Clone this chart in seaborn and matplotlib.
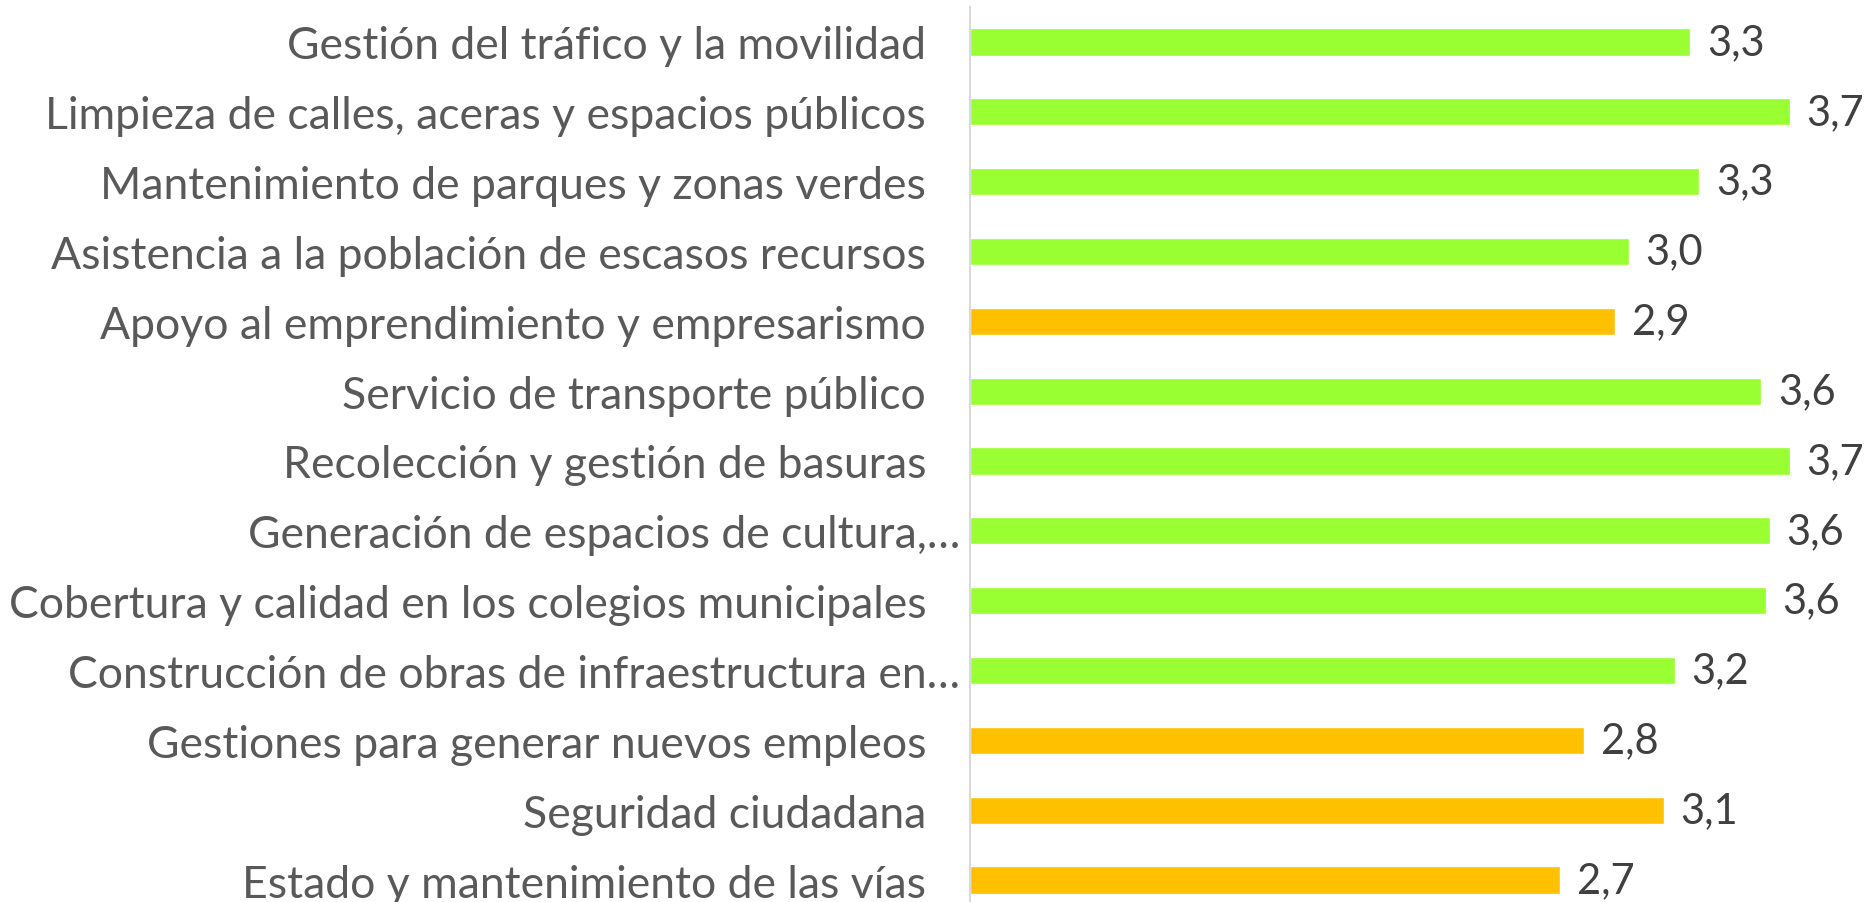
import numpy as np
import pandas as pd
import seaborn as sns
import matplotlib.pyplot as plt

# datos (promedio por servicio)
servicios = [
    "Gestión del tráfico y la movilidad   ",
    "Limpieza de calles, aceras y espacios públicos   ",
    "Mantenimiento de parques y zonas verdes   ",
    "Asistencia a la población de escasos recursos   ",
    "Apoyo al emprendimiento y empresarismo   ",
    "Servicio de transporte público   ",
    "Recolección y gestión de basuras   ",
    "Generación de espacios de cultura,…",
    "Cobertura y calidad en los colegios municipales   ",
    "Construcción de obras de infraestructura en…",
    "Gestiones para generar nuevos empleos   ",
    "Seguridad ciudadana   ",
    "Estado y mantenimiento de las vías   ",
]
promedio = [3.26, 3.71, 3.30, 2.98, 2.92, 3.58, 3.71, 3.62, 3.60, 3.19, 2.78, 3.14, 2.67]
grupo = ["alto", "alto", "alto", "alto", "bajo", "alto", "alto",
         "alto", "alto", "alto", "bajo", "bajo", "bajo"]
colores = {"alto": "#99FF33", "bajo": "#FFC000"}

df = pd.DataFrame({"Servicio": servicios, "Promedio": promedio, "Grupo": grupo})

sns.set_style("white")
plt.rcParams["font.family"] = ["Lato", "DejaVu Sans"]

fig = plt.figure(figsize=(18.7, 9.03), dpi=100)
ax = fig.add_axes([970 / 1870, -13 / 903, 1 - 970 / 1870, 908 / 903])

sns.barplot(data=df, x="Promedio", y="Servicio", hue="Grupo", palette=colores,
            width=0.39, legend=False, ax=ax, dodge=False, saturation=1)

for cont in ax.containers:
    etiquetas = [f"{b.get_width():.1f}".replace(".", ",") if b.get_width() > 0 else ""
                 for b in cont]
    ax.bar_label(cont, labels=etiquetas, padding=12, fontsize=30, color="#404040")

ax.set_xlim(0, 900 / 221)
ax.set_ylim(12.5, -0.5)
ax.set_xlabel("")
ax.set_ylabel("")
ax.set_xticks([])
ax.tick_params(axis="y", length=0, pad=7, labelsize=32, labelcolor="#595959")
for s in ["top", "right", "bottom"]:
    ax.spines[s].set_visible(False)
ax.spines["left"].set_color("#D9D9D9")
ax.spines["left"].set_linewidth(1.5)

fig.savefig("out.png", dpi=100)
